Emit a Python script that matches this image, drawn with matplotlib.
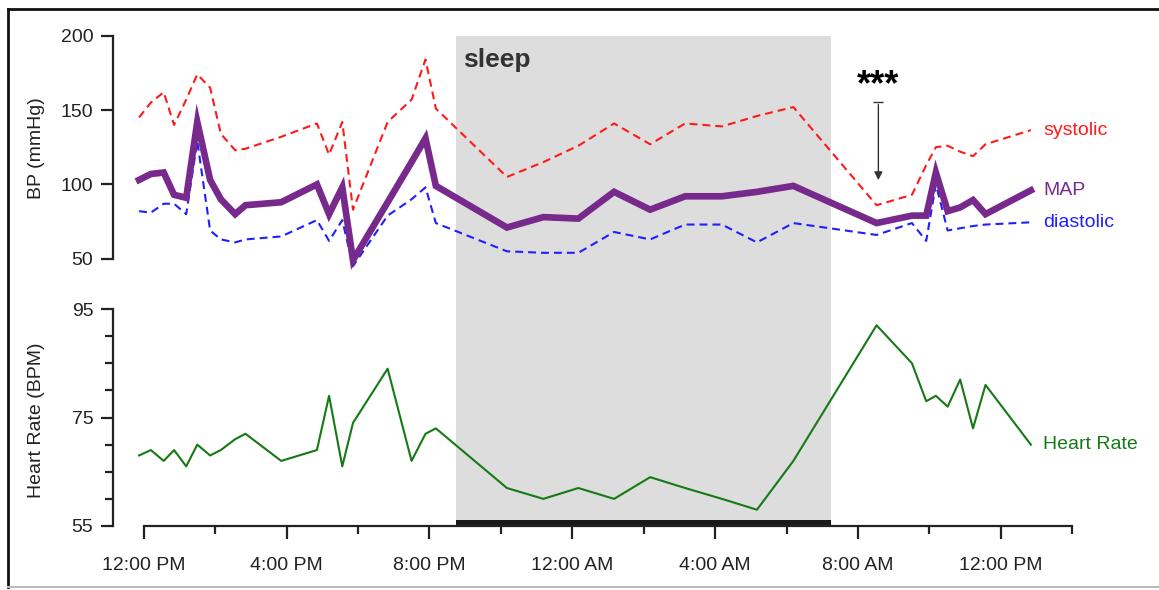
import matplotlib
matplotlib.use("Agg")
import matplotlib.pyplot as plt
from matplotlib.lines import Line2D
from matplotlib.ticker import MultipleLocator

plt.rcParams['font.family'] = ['Liberation Sans', 'DejaVu Sans']

# time of each reading, hours from midnight of day 1 (24 = midnight, 36 = noon day 2)
hours = [11.87, 12.20, 12.56, 12.85, 13.19, 13.50, 13.86, 14.16, 14.56, 14.85,
         15.85, 16.85, 17.19, 17.56, 17.86, 18.83, 19.50, 19.89, 20.18, 22.17,
         23.19, 24.17, 25.17, 26.18, 27.16, 28.19, 29.17, 30.19, 32.52, 33.51,
         33.91, 34.18, 34.51, 34.86, 35.22, 35.57, 36.84]
systolic = [145, 155, 162, 140, 157, 174, 165, 134, 123, 124,
            132, 141, 120, 142, 83, 142, 157, 184, 151, 105,
            115, 126, 141, 127, 141, 139, 146, 152, 86, 93,
            113, 125, 126, 122, 119, 127, 136.5]
mapp = [103, 107, 108, 93, 91, 142, 103, 90, 80, 86,
        88, 100, 80, 98, 49, 88, 115, 131, 99, 71,
        78, 77, 95, 83, 92, 92, 95, 99, 74, 79,
        79, 108, 82, 84.5, 89.5, 80, 96]
diastolic = [82, 81, 87, 87, 80, 129, 69, 63, 61, 63,
             65, 76, 62, 76, 45, 79, 90, 98, 74, 55,
             54, 54, 68, 63, 73, 73, 61, 74, 66, 74,
             62, 100, 69, 70.5, 72, 73, 74.5]
heart_rate = [68, 69, 67, 69, 66, 70, 68, 69, 71, 72,
              67, 69, 79, 66, 74, 84, 67, 72, 73, 62,
              60, 62, 60, 64, 62, 60, 58, 67, 92, 85,
              78, 79, 77, 82, 73, 81, 70]

sleep_start = 20.75
sleep_end = 31.24
arrow_hour = 32.57
arrow_from = 155.6
arrow_to = 101.0

xtick_pos = [12, 16, 20, 24, 28, 32, 36]
xtick_labels = ['12:00 PM', '4:00 PM', '8:00 PM', '12:00 AM', '4:00 AM', '8:00 AM', '12:00 PM']

c_sys = '#ff1a1a'
c_map = '#782a8c'
c_dia = '#1f1fff'
c_hr = '#157a15'
c_txt = '#222222'
c_gray = '#dddddd'

W, H = 1159, 590
fig = plt.figure(figsize=(W / 100, H / 100), dpi=100)

left_px, right_px = 112.7, 1072.3
x0 = 12 - (143.7 - left_px) / 35.71
ax1 = fig.add_axes([left_px / W, 1 - 309 / H, (right_px - left_px) / W, (309 - 35.7) / H])
ax2 = fig.add_axes([left_px / W, 1 - 526 / H, (right_px - left_px) / W, (526 - 309) / H])

for ax in (ax1, ax2):
    ax.set_facecolor('none')
    ax.set_xlim(x0, 38)
    ax.axvspan(sleep_start, sleep_end, color=c_gray, lw=0, zorder=0)
    for s in ('top', 'right'):
        ax.spines[s].set_visible(False)
    ax.spines['left'].set_linewidth(1.6)
    ax.spines['left'].set_color(c_txt)
    ax.tick_params(axis='y', which='major', length=9, width=1.6, color=c_txt,
                   labelsize=14, labelcolor=c_txt, pad=5)
    ax.tick_params(axis='y', which='minor', length=5.5, width=1.6, color=c_txt)

# blood pressure panel
ax1.set_ylim(200 - (309 - 35.7) / 1.487, 200)
ax1.spines['left'].set_bounds(50, 200)
ax1.spines['bottom'].set_visible(False)
ax1.set_yticks([50, 100, 150, 200])
ax1.set_xticks([])
ax1.plot(hours, systolic, color=c_sys, lw=1.5, dashes=(3.8, 2.4))
ax1.plot(hours, diastolic, color=c_dia, lw=1.5, dashes=(3.8, 2.4))
ax1.plot(hours, mapp, color=c_map, lw=4.8, solid_joinstyle='miter')
ax1.set_ylabel('BP (mmHg)', fontsize=14, color=c_txt)
ax1.yaxis.set_label_coords(-0.071, 0.589)
ax1.text(20.94, 179.2, 'sleep', fontsize=19, fontweight='bold', color='#333333', va='baseline')
ax1.text(arrow_hour, 166.5, '***', fontsize=26, fontweight='bold', ha='center', va='center', color='black')
ax1.annotate('', xy=(arrow_hour, arrow_to), xytext=(arrow_hour, arrow_from),
             arrowprops=dict(arrowstyle='-|>', color='#333333', lw=1, mutation_scale=12))
ax1.plot([arrow_hour], [arrow_from], marker='_', ms=7, color='#333333', mew=1)

for name, vals, col in (('systolic', systolic, c_sys), ('MAP', mapp, c_map),
                        ('diastolic', diastolic, c_dia)):
    ax1.annotate(name, xy=(hours[-1], vals[-1]), xytext=(9, 0), textcoords='offset points',
                 fontsize=14, color=col, va='center', annotation_clip=False)

# heart rate panel
ax2.set_ylim(55, 95)
ax2.spines['left'].set_bounds(55, 95)
ax2.spines['bottom'].set_bounds(12, 38)
ax2.spines['bottom'].set_linewidth(1.6)
ax2.spines['bottom'].set_color(c_txt)
ax2.set_yticks([55, 75, 95])
ax2.yaxis.set_minor_locator(MultipleLocator(5))
ax2.set_xticks(xtick_pos)
ax2.set_xticklabels(xtick_labels)
ax2.set_xticks([14, 18, 22, 26, 30, 34, 38], minor=True)
ax2.tick_params(axis='x', which='major', length=9, width=1.6, color=c_txt,
                labelsize=14, labelcolor=c_txt, pad=13)
ax2.tick_params(axis='x', which='minor', length=5.5, width=1.6, color=c_txt)
ax2.axvspan(sleep_start, sleep_end, ymin=0, ymax=6 / 217, color='#1a1a1a', lw=0, zorder=1)
ax2.plot(hours, heart_rate, color=c_hr, lw=1.5)
ax2.set_ylabel('Heart Rate (BPM)', fontsize=14, color=c_txt)
ax2.yaxis.set_label_coords(-0.071, 0.488)
ax2.annotate('Heart Rate', xy=(hours[-1], heart_rate[-1]), xytext=(9, 0), textcoords='offset points',
             fontsize=14, color=c_hr, va='center', annotation_clip=False)

# picture frame
fig.add_artist(Line2D([8 / W, 1], [1 - 9 / H, 1 - 9 / H], color='#111111', lw=2))
fig.add_artist(Line2D([8 / W, 8 / W], [1 - 9 / H, 1 - 587 / H], color='#111111', lw=2))
fig.add_artist(Line2D([8 / W, 1], [1 - 587 / H, 1 - 587 / H], color='#bbbbbb', lw=1.5))

fig.savefig('out.png', dpi=100)
